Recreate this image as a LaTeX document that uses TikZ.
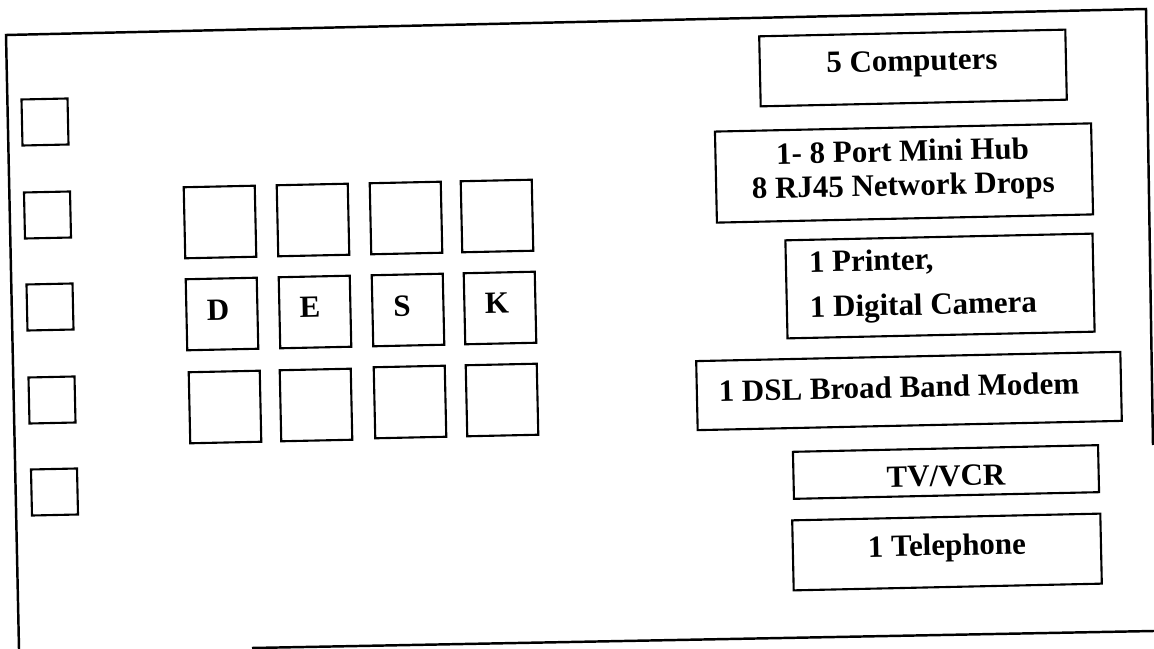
\documentclass[tikz,border=0pt]{standalone}
\usepackage{fontspec}
\setmainfont{Liberation Serif}
\begin{document}
\begin{tikzpicture}[x=0.01cm,y=-0.01cm,
  sq/.style={draw, line width=0.6pt, minimum width=0.46cm, minimum height=0.46cm, inner sep=0pt, rotate=1.25},
  desk/.style={draw, line width=0.6pt, minimum width=0.71cm, minimum height=0.71cm, inner sep=0pt, rotate=1.25},
  item/.style={draw, line width=0.6pt, inner sep=0pt, rotate=1.25},
  txt/.style={font=\fontsize{8.8}{9.7}\selectfont\bfseries, inner sep=0pt, rotate=1.25, align=center},
  frame/.style={line width=0.7pt}]
\useasboundingbox (0,0) rectangle (1154,649);
% outer frame (partly faded in the scan)
\coordinate (f1) at (19,649);
\coordinate (f2) at (6,35);
\coordinate (f3) at (1146,9);
\coordinate (f4) at (1153,445);
\coordinate (b1) at (252,648);
\coordinate (b2) at (1154,631);
\draw[frame] (f1) -- (f2) -- (f3) -- (f4);
\draw[frame] (b1) -- (b2);
% left column of squares
\node[sq] (l1) at (45,122) {};
\node[sq] (l2) at (47.5,215) {};
\node[sq] (l3) at (50,307) {};
\node[sq] (l4) at (52,400) {};
\node[sq] (l5) at (54.5,492) {};
% desk grid
\node[desk] (d11) at (220,222) {};
\node[desk] (d12) at (313,220) {};
\node[desk] (d13) at (406,218) {};
\node[desk] (d14) at (497,216) {};
\node[desk] (d21) at (222,314) {};
\node[desk] (d22) at (315,312) {};
\node[desk] (d23) at (408,310) {};
\node[desk] (d24) at (500,308) {};
\node[desk] (d31) at (225,407) {};
\node[desk] (d32) at (316,405) {};
\node[desk] (d33) at (410,402) {};
\node[desk] (d34) at (502,400) {};
\node[txt] (tD) at (218,310) {D};
\node[txt] (tE) at (310,307) {E};
\node[txt] (tS) at (402,306) {S};
\node[txt] (tK) at (497,303) {K};
% equipment boxes
\node[item, minimum width=3.06cm, minimum height=0.70cm] (comp) at (913,68) {};
\node[txt] (tcomp) at (912,64) {5 Computers};
\node[item, minimum width=3.76cm, minimum height=0.91cm] (hub) at (904,173) {};
\node[txt, font=\fontsize{8.8}{9.7}\selectfont\bfseries] (thub) at (903,171) {1- 8 Port Mini Hub\\8 RJ45 Network Drops};
\node[item, minimum width=3.07cm, minimum height=0.98cm] (prn) at (940,286) {};
\node[txt, align=left, font=\fontsize{8.8}{12.8}\selectfont\bfseries] (tprn) at (923,285) {1 Printer,\\1 Digital Camera};
\node[item, minimum width=4.24cm, minimum height=0.69cm] (dsl) at (909,391) {};
\node[txt] (tdsl) at (899,387) {1 DSL Broad Band Modem};
\node[item, minimum width=3.05cm, minimum height=0.47cm] (tv) at (946,472) {};
\node[txt] (ttv) at (946,476) {TV/VCR};
\node[item, minimum width=3.08cm, minimum height=0.70cm] (tel) at (947,552) {};
\node[txt] (ttel) at (947,548) {1 Telephone};
\end{tikzpicture}
\end{document}
